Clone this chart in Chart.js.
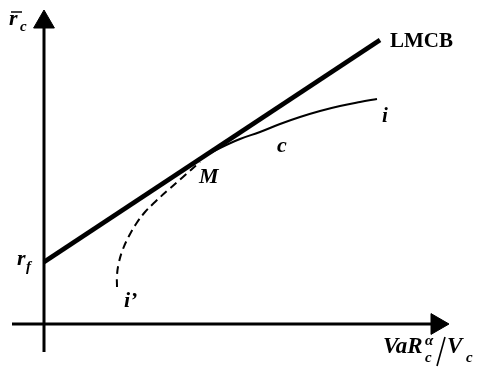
<!DOCTYPE html>
<html>
<head>
<meta charset="utf-8">
<script src="https://cdn.jsdelivr.net/npm/chart.js@4"></script>
<style>
  html, body { margin: 0; padding: 0; background: #fff; }
  #wrap { width: 488px; height: 374px; }
</style>
</head>
<body>
<div id="wrap"><canvas id="lmcbChart" width="488" height="374"></canvas></div>
<script>
// Capital market line (LMCB) from r_f, tangent to the efficient frontier at M
const lmcbX = [0, 336];
const lmcbY = [62, 284];

// Efficient part of the frontier, M -> i
const frontierX = [151, 161, 176, 196, 216, 236, 256, 276, 296, 316, 333];
const frontierY = [162, 168, 176, 185, 192, 200, 207, 213, 218, 222, 225];

// Inefficient part, i' -> M
const lowerX = [73, 73, 75, 79, 85, 92, 101, 111, 123, 139, 156];
const lowerY = [37, 49, 62, 75, 88, 100, 112, 122, 133, 147, 162];

// Axis extents (origin at 0,0)
const xAxisEnds = [-32, 393];
const yAxisEnds = [-28, 302];

const toPoints = (xs, ys) => xs.map((v, i) => ({ x: v, y: ys[i] }));

const biFont = size => `italic bold ${size}px "Liberation Serif", "Times New Roman", serif`;

// Text labels drawn on top of the lines
const labelPlugin = {
    id: 'diagramLabels',
    afterDatasetsDraw(chart) {
        const { ctx, scales: { x, y } } = chart;
        const px = v => x.getPixelForValue(v);
        const py = v => y.getPixelForValue(v);
        const put = (t, vx, vy, font) => {
            ctx.font = font;
            ctx.fillText(t, px(vx), py(vy));
        };
        ctx.save();
        ctx.fillStyle = '#000';
        ctx.strokeStyle = '#000';
        ctx.textBaseline = 'alphabetic';

        // y-axis title: r-bar sub c
        put('r', -35, 299, biFont(22));
        ctx.lineWidth = 1.5;
        ctx.beginPath();
        ctx.moveTo(px(-33), py(312));
        ctx.lineTo(px(-22), py(312));
        ctx.stroke();
        put('c', -24, 293, biFont(15));

        // risk-free rate
        put('r', -27, 59, biFont(22));
        put('f', -18, 53, biFont(15));

        put('LMCB', 346, 277, `bold 21px "Liberation Serif", "Times New Roman", serif`);
        put('i', 338, 202, biFont(21));
        put('c', 233, 172, biFont(22));
        put('M', 155, 141, biFont(22));
        put('i’', 80, 17, biFont(22));

        // x-axis title: VaR_c^alpha / V_c
        put('VaR', 339, -29, biFont(23));
        put('α', 381, -21, biFont(15));
        put('c', 381, -38, biFont(15));
        ctx.lineWidth = 1.6;
        ctx.beginPath();
        ctx.moveTo(px(393), py(-42));
        ctx.lineTo(px(401), py(-13));
        ctx.stroke();
        put('V', 403, -29, biFont(23));
        put('c', 422, -38, biFont(15));

        ctx.restore();
    }
};

const ctx = document.getElementById('lmcbChart').getContext('2d');

new Chart(ctx, {
    type: 'scatter',
    data: {
        datasets: [
            {
                // x axis
                data: [{ x: xAxisEnds[0], y: 0 }, { x: xAxisEnds[1], y: 0 }],
                showLine: true,
                borderColor: '#000',
                borderWidth: 3,
                pointRadius: [0, 12],
                pointStyle: 'triangle',
                rotation: 90,
                backgroundColor: '#000',
                pointBorderWidth: 1,
                pointBorderColor: '#000'
            },
            {
                // y axis
                data: [{ x: 0, y: yAxisEnds[0] }, { x: 0, y: yAxisEnds[1] }],
                showLine: true,
                borderColor: '#000',
                borderWidth: 3,
                pointRadius: [0, 12],
                pointStyle: 'triangle',
                backgroundColor: '#000',
                pointBorderWidth: 1,
                pointBorderColor: '#000'
            },
            {
                label: 'LMCB',
                data: toPoints(lmcbX, lmcbY),
                showLine: true,
                borderColor: '#000',
                borderWidth: 4.5,
                pointRadius: 0
            },
            {
                label: 'c',
                data: toPoints(frontierX, frontierY),
                showLine: true,
                borderColor: '#000',
                borderWidth: 2,
                tension: 0.4,
                pointRadius: 0
            },
            {
                label: "i'",
                data: toPoints(lowerX, lowerY),
                showLine: true,
                borderColor: '#000',
                borderWidth: 2,
                borderDash: [8, 5],
                tension: 0.4,
                pointRadius: 0
            }
        ]
    },
    options: {
        responsive: false,
        animation: false,
        clip: false,
        layout: { padding: 0, autoPadding: false },
        plugins: {
            legend: { display: false },
            tooltip: { enabled: false }
        },
        scales: {
            x: { type: 'linear', min: -44, max: 444, display: false },
            y: { type: 'linear', min: -50, max: 324, display: false }
        }
    },
    plugins: [labelPlugin]
});
</script>
</body>
</html>
